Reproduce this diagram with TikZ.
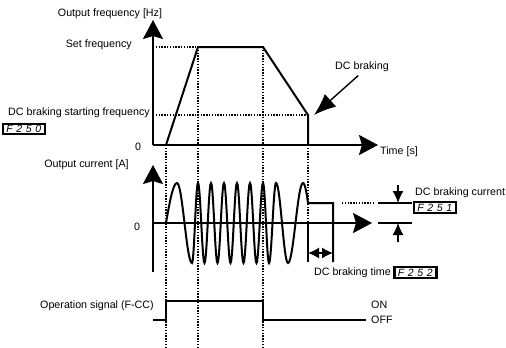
\documentclass[tikz,border=0pt]{standalone}
\usepackage{fontspec}
\setmainfont{Liberation Sans}
\usetikzlibrary{arrows.meta}
\newcommand\sevsegdisp[4]{\makebox[9.6pt]{#1}\makebox[9.6pt]{#2}\makebox[9.6pt]{#3}\makebox[9.6pt]{#4}}
\begin{document}
\begin{tikzpicture}[x=1pt,y=-1pt,
  lbl/.style={font=\fontsize{10.7pt}{12pt}\selectfont, inner sep=0pt},
  dispbox/.style={draw, line width=2.2pt, minimum width=42pt, minimum height=10.5pt, inner sep=0pt, font=\fontsize{10.5pt}{10pt}\selectfont\itshape},
  curve/.style={line width=2pt, line join=miter},
  dots/.style={line width=1.3pt, dash pattern=on 1.3pt off 1.5pt},
  axisarrow/.style={line width=2.2pt, -{Stealth[length=19pt,width=20pt,inset=3pt]}},
  bigarrow/.style={line width=1.4pt, -{Latex[length=22pt,width=17pt]}},
  dimarrow/.style={line width=1.3pt, -{Latex[length=12pt,width=11pt]}},
  dimboth/.style={line width=1.3pt, {Latex[length=11pt,width=11pt]}-{Latex[length=11pt,width=11pt]}},
  thinline/.style={line width=1.3pt},
]
\useasboundingbox (0,0) rectangle (506,348);

% ---------- coordinates ----------
\coordinate (fO) at (153,145);
\coordinate (fY) at (153,20);
\coordinate (fX) at (378,145);
\coordinate (fA) at (166,145);
\coordinate (fB) at (198,47);
\coordinate (fC) at (263,47);
\coordinate (fD) at (308,115);
\coordinate (fE) at (308,145);
\coordinate (fSy) at (153,47);
\coordinate (fDy) at (153,115);
\coordinate (dct) at (314,115);

\coordinate (cB) at (153,272);
\coordinate (cY) at (153,165);
\coordinate (cO) at (153,223);
\coordinate (cX) at (372,223);
\coordinate (dc2) at (333,203);
\coordinate (dc3) at (333,262);
\coordinate (dcz) at (308,223);
\coordinate (dc4) at (308,262);
\coordinate (tm1) at (308,253);
\coordinate (tm2) at (333,253);
\coordinate (dd1) at (342,203);
\coordinate (dd2) at (373,203);
\coordinate (s1a) at (378,203);
\coordinate (s1b) at (412,203);
\coordinate (s2a) at (378,223);
\coordinate (s2b) at (412,223);
\coordinate (ca1) at (398,185);
\coordinate (ca1t) at (398,203);
\coordinate (ca2) at (398,242);
\coordinate (ca2t) at (398,223);

\coordinate (o1) at (153,320);
\coordinate (o2) at (166,320);
\coordinate (o3) at (166,301);
\coordinate (o4) at (263,301);
\coordinate (o5) at (263,320);
\coordinate (o6) at (366,320);

\coordinate (v1t) at (166,145);
\coordinate (v1b) at (166,348);
\coordinate (v2b) at (198,348);
\coordinate (v3b) at (263,348);

% ---------- dotted guide lines ----------
\draw[dots] (fSy) -- (fB);
\draw[dots] (fDy) -- (fD);
\draw[dots] (v1t) -- (v1b);
\draw[dots] (fB) -- (v2b);
\draw[dots] (fC) -- (v3b);
\draw[dots] (fE) -- (dcz);
\draw[dots] (dd1) -- (dd2);

% ---------- labels ----------
\node[lbl] (lof) at (110,14) {Output frequency [Hz]};
\node[lbl, anchor=east] (lsf) at (132,45) {Set frequency};
\node[lbl, anchor=west] (ldcs) at (8,113) {DC braking starting frequency};
\node[dispbox] (d250) at (24,129) {\sevsegdisp{F}{2}{5}{0}};
\node[lbl] (lz1) at (138,147) {0};
\node[lbl, anchor=west] (ltime) at (380,152) {Time [s]};
\node[lbl] (dcbl) at (362,67) {DC braking};
\node[lbl] (loc) at (86.5,165) {Output current [A]};
\node[lbl] (lz2) at (137,227) {0};
\node[lbl, anchor=west] (ldcc) at (415,193) {DC braking current};
\node[dispbox] (d251) at (435,207.5) {\sevsegdisp{F}{2}{5}{1}};
\node[lbl, anchor=east] (ldct) at (391,273) {DC braking time};
\node[dispbox] (d252) at (415.5,272.5) {\sevsegdisp{F}{2}{5}{2}};
\node[lbl] (lop) at (97,306) {Operation signal (F-CC)};
\node[lbl, anchor=west] (lon) at (371,305) {ON};
\node[lbl, anchor=west] (loff) at (371,320) {OFF};

% ---------- frequency chart ----------
\draw[axisarrow] (fO) -- (fY);
\draw[axisarrow] (fO) -- (fX);
\draw[curve] (fA) -- (fB) -- (fC) -- (fD) -- (fE);
\draw[bigarrow, shorten <=5pt] (dcbl.south) -- (dct);

% ---------- current chart ----------
\draw[axisarrow] (cB) -- (cY);
\draw[axisarrow] (cO) -- (cX);
\draw[curve] (166,223) sin (177,183) cos (184.5,223) sin (192,263) cos (195,223)
  sin (198,183) cos (201.25,223) sin (204.5,263) cos (207.75,223)
  sin (211,183) cos (214.25,223) sin (217.5,263) cos (220.75,223)
  sin (224,183) cos (227.25,223) sin (230.5,263) cos (233.75,223)
  sin (237,183) cos (240.25,223) sin (243.5,263) cos (246.75,223)
  sin (250,183) cos (253.25,223) sin (256.5,263) cos (259.75,223)
  sin (263,183) cos (266,223) sin (269,263) cos (272.5,223)
  sin (276,183) cos (282,223) sin (288,263) cos (295.5,223)
  sin (303,183) -- plot[domain=303:308, samples=8] (\x,{223-40*cos(90*(\x-303)/7.5)})
  -- (dc2) -- (dc3);
\draw[curve] (dcz) -- (dc4);
\draw[dimboth] (tm1) -- (tm2);
\draw[thinline] (s1a) -- (s1b);
\draw[thinline] (s2a) -- (s2b);
\draw[dimarrow] (ca1) -- (ca1t);
\draw[dimarrow] (ca2) -- (ca2t);

% ---------- operation signal ----------
\draw[curve] (o1) -- (o2) -- (o3) -- (o4) -- (o5) -- (o6);
\end{tikzpicture}
\end{document}
